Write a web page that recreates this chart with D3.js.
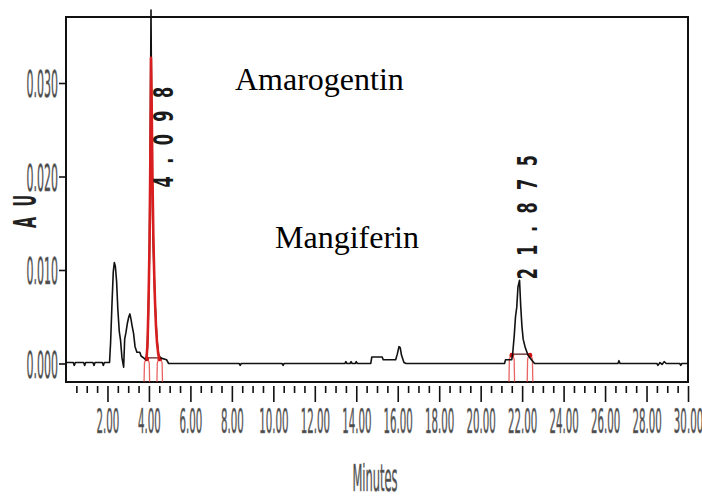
<!DOCTYPE html>
<html>
<head>
<meta charset="utf-8">
<script src="https://cdn.jsdelivr.net/npm/d3@7"></script>
<style>
  html, body { margin: 0; padding: 0; background: #fff; }
  svg { display: block; }
</style>
</head>
<body>
<svg id="chart" width="702" height="498"></svg>
<script>
// Detector trace: [retention time (min), absorbance (AU)]
const trace = [
  [0.00, 0.0001], [0.35, 0.0001], [0.40, -0.0002], [0.45, 0.0001],
  [0.85, 0.0001], [0.90, -0.0002], [0.95, 0.0001],
  [1.30, 0.0001], [1.35, -0.0002], [1.40, 0.0001],
  [1.75, 0.0001], [1.80, -0.0002], [1.85, 0.0001],
  [2.10, 0.0001], [2.15, 0.0022], [2.22, 0.0065], [2.28, 0.0098],
  [2.33, 0.0108], [2.38, 0.0104], [2.44, 0.0088], [2.50, 0.0058],
  [2.57, 0.0034], [2.63, 0.0025], [2.70, 0.0006], [2.78, -0.0004],
  [2.83, 0.0026], [2.89, 0.0033], [2.96, 0.0043], [3.03, 0.0050],
  [3.08, 0.0053], [3.13, 0.0048], [3.19, 0.0040], [3.26, 0.0032],
  [3.33, 0.0018], [3.42, 0.0012], [3.56, 0.0012], [3.62, 0.0008],
  [3.74, 0.0006], [3.86, 0.0004], [3.92, 0.0015], [3.97, 0.0050],
  [4.02, 0.0110], [4.06, 0.0220], [4.10, 0.0378], [4.14, 0.0230],
  [4.19, 0.0140], [4.25, 0.0095], [4.30, 0.0062], [4.38, 0.0028],
  [4.46, 0.0010], [4.55, 0.0006], [4.85, 0.0004], [4.95, 0.0000],
  [8.35, 0.0000], [8.40, -0.0002], [8.45, 0.0000],
  [10.42, 0.0000], [10.47, -0.0002], [10.52, 0.0000],
  [13.45, 0.0000], [13.50, 0.0002], [13.55, 0.0000],
  [13.70, 0.0000], [13.75, 0.0002], [13.80, 0.0000],
  [13.95, 0.0000], [14.00, 0.0002], [14.05, 0.0000],
  [14.70, 0.0000], [14.75, 0.0007], [15.25, 0.0007], [15.30, 0.0004],
  [15.90, 0.0004], [15.98, 0.0010], [16.06, 0.0018], [16.12, 0.0017],
  [16.18, 0.0009], [16.30, 0.0001], [16.40, 0.0000],
  [21.15, 0.0000], [21.20, 0.0004], [21.50, 0.0004], [21.55, 0.0012],
  [21.62, 0.0030], [21.68, 0.0050], [21.74, 0.0060], [21.80, 0.0082],
  [21.875, 0.0089], [21.93, 0.0062], [21.99, 0.0040], [22.05, 0.0026],
  [22.15, 0.0017], [22.28, 0.0009], [22.45, 0.0004], [22.60, 0.0000],
  [26.62, 0.0000], [26.67, 0.0003], [26.72, 0.0000],
  [28.50, 0.0000], [28.55, -0.0002], [28.65, 0.0001], [28.75, -0.0001],
  [28.85, 0.0002], [28.95, 0.0000],
  [29.60, 0.0000], [29.65, -0.0002], [29.70, 0.0000], [30.00, 0.0000]
];

// Integrated profile of the main peak
const fittedPeak = [
  [3.88, 0.0004], [3.93, 0.0020], [3.97, 0.0055], [4.00, 0.0090],
  [4.03, 0.0130], [4.06, 0.0200], [4.09, 0.0280], [4.10, 0.0327],
  [4.13, 0.0280], [4.17, 0.0200], [4.21, 0.0140], [4.25, 0.0100],
  [4.29, 0.0068], [4.34, 0.0040], [4.39, 0.0022], [4.45, 0.0010],
  [4.50, 0.0005]
];

// Labelled peaks: retention times, their printed labels, integration limits
const peakTimes = [4.098, 21.875];
const peakLabels = ["4.098", "21.875"];
const peakStart = [3.90, 21.50];
const peakEnd = [4.52, 22.38];
const peakBaseAU = [0.0006, 0.0010];

// Compound names
const compounds = ["Amarogentin", "Mangiferin"];

// Axis ticks
const xMajorTicks = [2, 4, 6, 8, 10, 12, 14, 16, 18, 20, 22, 24, 26, 28, 30];
const xMinorTicks = [0.5, 1, 1.5, 2.5, 3, 3.5, 4.5, 5, 5.5, 6.5, 7, 7.5,
  8.5, 9, 9.5, 10.5, 11, 11.5, 12.5, 13, 13.5, 14.5, 15, 15.5, 16.5, 17, 17.5,
  18.5, 19, 19.5, 20.5, 21, 21.5, 22.5, 23, 23.5, 24.5, 25, 25.5, 26.5, 27, 27.5,
  28.5, 29, 29.5];
const yTicks = [0.000, 0.010, 0.020, 0.030];

// ---- layout ----
const frame = { left: 66, right: 688, top: 17, bottom: 382 };
const svg = d3.select("#chart");

const x = d3.scaleLinear().domain([0, 30]).range([frame.left, frame.right]);
const y = d3.scaleLinear().domain([-0.00198, 0.03706]).range([frame.bottom, frame.top]);

const narrowFont = "'DejaVu Sans', sans-serif";
const axisGrey = "#4a4a4a";

// plot frame
svg.append("rect")
  .attr("x", frame.left).attr("y", frame.top)
  .attr("width", frame.right - frame.left)
  .attr("height", frame.bottom - frame.top)
  .attr("fill", "none").attr("stroke", "#111").attr("stroke-width", 2);

// ---- x axis (below frame, detached) ----
const xAxisY = frame.bottom + 4;
const gMinor = svg.append("g").attr("transform", `translate(0,${xAxisY})`)
  .call(d3.axisBottom(x).tickValues(xMinorTicks).tickSize(7).tickFormat(""));
const gMajor = svg.append("g").attr("transform", `translate(0,${xAxisY})`)
  .call(d3.axisBottom(x).tickValues(xMajorTicks).tickSize(16).tickFormat(d3.format(".2f")));
[gMinor, gMajor].forEach(g => {
  g.select(".domain").remove();
  g.selectAll(".tick line").attr("stroke", "#111").attr("stroke-width", 1.6);
});
gMajor.selectAll(".tick text")
  .attr("y", 47).attr("dy", null)
  .attr("transform", "scale(0.31,1)")
  .attr("font-family", narrowFont).attr("font-size", 33)
  .attr("fill", axisGrey)
  .attr("stroke", "#777").attr("stroke-width", 0.6);

// ---- y axis ----
const gY = svg.append("g").attr("transform", `translate(${frame.left - 1},0)`)
  .call(d3.axisLeft(y).tickValues(yTicks).tickSize(6).tickFormat(d3.format(".3f")));
gY.select(".domain").remove();
gY.selectAll(".tick line").attr("stroke", "#111").attr("stroke-width", 1.6);
gY.selectAll(".tick text")
  .attr("x", 0).attr("dy", "0.36em")
  .attr("transform", "translate(-7,0) scale(0.29,1)")
  .attr("text-anchor", "end")
  .attr("font-family", narrowFont).attr("font-size", 38)
  .attr("fill", axisGrey)
  .attr("stroke", "#777").attr("stroke-width", 0.6);

// axis titles
svg.append("text")
  .attr("transform", `translate(375,491) scale(0.31,1)`)
  .attr("text-anchor", "middle")
  .attr("font-family", narrowFont).attr("font-size", 37)
  .attr("fill", axisGrey)
  .attr("stroke", "#777").attr("stroke-width", 0.6)
  .text("Minutes");

svg.append("text")
  .attr("transform", `translate(36,206) rotate(-90) scale(0.45,1)`)
  .attr("text-anchor", "middle")
  .attr("font-family", narrowFont).attr("font-size", 32)
  .attr("font-weight", "bold")
  .attr("letter-spacing", 24)
  .attr("fill", "#222")
  .text("AU");

// ---- integration limits ----
const limitColor = "#e03030";
peakTimes.forEach((rt, i) => {
  const yb = y(peakBaseAU[i]);
  // baseline drawn between the limits
  svg.append("line")
    .attr("x1", x(peakStart[i])).attr("x2", x(peakEnd[i]))
    .attr("y1", yb).attr("y2", yb)
    .attr("stroke", "#5a1010").attr("stroke-width", 1.2);
  [peakStart[i], peakEnd[i]].forEach(t => {
    const cx = x(t);
    svg.append("path")
      .attr("d", `M${cx - 2.8},${frame.bottom} L${cx - 2.4},${yb + 5} Q${cx},${yb - 3} ${cx + 2.4},${yb + 5} L${cx + 2.8},${frame.bottom}`)
      .attr("fill", "none").attr("stroke", limitColor)
      .attr("stroke-opacity", 0.75).attr("stroke-width", 1.3);
    svg.append("circle")
      .attr("cx", cx).attr("cy", yb + 1).attr("r", 2.3)
      .attr("fill", "#d41414");
  });
});

// ---- trace ----
const line = d3.line().x(d => x(d[0])).y(d => y(d[1]));

svg.append("path")
  .datum(trace)
  .attr("d", line)
  .attr("fill", "none").attr("stroke", "#111")
  .attr("stroke-width", 1.6).attr("stroke-linejoin", "round");

svg.append("path")
  .datum(fittedPeak)
  .attr("d", line)
  .attr("fill", "none").attr("stroke", "#d81e1e")
  .attr("stroke-width", 2.6).attr("stroke-linejoin", "round");

// ---- peak retention-time labels ----
const peakLabelPlacement = [{ dx: 15, yc: 131 }, { dx: 10, yc: 211 }];
peakTimes.forEach((rt, i) => {
  const p = peakLabelPlacement[i];
  svg.append("text")
    .attr("transform", `translate(${x(rt) + p.dx + 7},${p.yc}) rotate(-90) scale(0.62,1)`)
    .attr("text-anchor", "middle")
    .attr("font-family", narrowFont).attr("font-size", 26)
    .attr("font-weight", "bold")
    .attr("letter-spacing", 20)
    .attr("fill", "#1a1a1a")
    .text(peakLabels[i]);
});

// ---- compound names ----
const compoundPlacement = [{ t: 8.15, au: 0.02925 }, { t: 10.08, au: 0.01236 }];
compounds.forEach((name, i) => {
  svg.append("text")
    .attr("x", x(compoundPlacement[i].t))
    .attr("y", y(compoundPlacement[i].au))
    .attr("font-family", "'Liberation Serif', 'Times New Roman', serif")
    .attr("font-size", 32)
    .attr("fill", "#000")
    .text(name);
});
</script>
</body>
</html>
